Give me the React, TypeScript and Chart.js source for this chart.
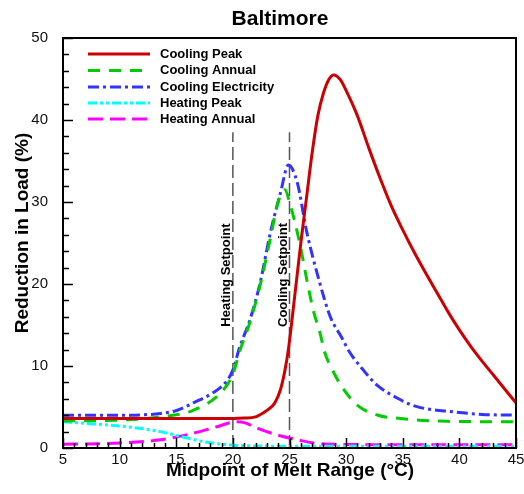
import React, { useEffect, useRef } from "react";
import { Chart, registerables } from "chart.js";

Chart.register(...registerables);

const FONT = "'Liberation Sans', Arial, Helvetica, sans-serif";

const chartTitle = "Baltimore";
const xAxisTitle = "Midpoint of Melt Range (°C)";
const yAxisTitle = "Reduction in Load (%)";
const seriesNames = ["Cooling Peak", "Cooling Annual", "Cooling Electricity", "Heating Peak", "Heating Annual"];
const setpointNames = ["Heating Setpoint", "Cooling Setpoint"];
const setpointX = [20, 25];
const setpointTop = 38.5;

const coolingPeakX = [5, 10, 15, 20, 21, 22, 22.7, 23.3, 23.7, 24.2, 24.6, 24.9, 25.5, 26, 26.5, 27, 27.5, 28, 28.5, 28.9, 29.5, 30.1, 31, 32, 33, 34, 35, 36, 37, 38, 39, 40, 41, 42, 43, 44, 45];
const coolingPeakY = [3.6, 3.6, 3.6, 3.6, 3.65, 3.8, 4.3, 4.9, 5.5, 7.1, 9.5, 12, 19, 25, 30.5, 36, 40.5, 43.3, 45, 45.5, 44.9, 43.3, 40.5, 36.6, 32.9, 29.5, 26.6, 23.9, 21.4, 19.0, 16.6, 14.4, 12.4, 10.6, 8.9, 7.2, 5.5];

const coolingAnnualX = [5, 10, 13.6, 16.5, 18.9, 20, 20.6, 21.5, 22.4, 23.3, 24, 24.6, 25, 25.9, 26.6, 27.1, 27.7, 28.1, 28.8, 29.7, 31, 32.8, 34.8, 39, 45];
const coolingAnnualY = [3.3, 3.4, 3.8, 4.6, 6.7, 9.0, 11.8, 15.3, 19.8, 25.5, 30.0, 31.5, 30.0, 25.0, 20.0, 16.8, 14.0, 11.7, 9.5, 7.3, 5.2, 4.0, 3.6, 3.25, 3.2];

const coolingElecX = [5, 10, 12, 13.6, 15.1, 16.5, 18.2, 19.3, 20, 20.6, 21.5, 22.4, 23.3, 24.2, 24.9, 25.7, 26.5, 27.6, 28.6, 29.6, 30.3, 31.4, 32.7, 34.5, 36.1, 39.5, 42, 45];
const coolingElecY = [4.0, 4.0, 4.05, 4.2, 4.6, 5.5, 6.7, 7.9, 9.5, 12.3, 15.6, 20.1, 26.2, 31.1, 34.5, 32.3, 26.5, 20.5, 16.0, 13.5, 11.7, 9.7, 7.7, 6.1, 5.1, 4.4, 4.1, 4.0];

const heatingPeakX = [5, 7, 10.6, 13.6, 16, 17.7, 20, 22, 30, 45];
const heatingPeakY = [3.2, 3.0, 2.6, 2.0, 1.2, 0.7, 0.35, 0.25, 0.2, 0.2];

const heatingAnnualX = [5, 10, 13.6, 16.5, 18.6, 20.3, 21, 22.2, 23.9, 25.7, 27.1, 29, 35, 45];
const heatingAnnualY = [0.45, 0.6, 1.0, 1.8, 2.6, 3.2, 3.1, 2.4, 1.6, 1.0, 0.6, 0.45, 0.4, 0.4];

const xMin = 5, xMax = 45, xStep = 5, xMinorStep = 1;
const yMin = 0, yMax = 50, yStep = 10, yMinorStep = 2;

const toPoints = (xs: number[], ys: number[]) => xs.map((x, i) => ({ x, y: ys[i] }));

const styles = [
  { color: "#cc0000", dash: [] as number[] },
  { color: "#00cc00", dash: [12, 9] },
  { color: "#3333ff", dash: [11, 4, 3, 4] },
  { color: "#00ffff", dash: [9, 3, 3, 3, 3, 3] },
  { color: "#ff00ff", dash: [15, 7] },
];

const decorPlugin = {
  id: "decor",
  afterDatasetsDraw(chart: any) {
    const { ctx, chartArea } = chart;
    const xs = chart.scales.x;
    const ys = chart.scales.y;
    const { left, right, top, bottom } = chartArea;
    ctx.save();
    ctx.strokeStyle = "#000";
    ctx.lineWidth = 1.5;
    ctx.setLineDash([]);
    for (let v = xMin; v <= xMax + 1e-9; v += xMinorStep) {
      const px = Math.round(xs.getPixelForValue(v)) + 0.5;
      const major = Math.abs(v / xStep - Math.round(v / xStep)) < 1e-6;
      const len = major ? 10 : 5;
      ctx.beginPath();
      ctx.moveTo(px, bottom);
      ctx.lineTo(px, bottom - len);
      ctx.stroke();
    }
    for (let v = yMin; v <= yMax + 1e-9; v += yMinorStep) {
      const py = Math.round(ys.getPixelForValue(v)) + 0.5;
      const major = Math.abs(v / yStep - Math.round(v / yStep)) < 1e-6;
      const len = major ? 10 : 6;
      ctx.beginPath();
      ctx.moveTo(left, py);
      ctx.lineTo(left + len, py);
      ctx.stroke();
    }
    ctx.lineWidth = 2;
    ctx.strokeRect(left, top, right - left, bottom - top);

    const rowY = [54, 70.5, 87, 103, 119];
    ctx.font = `bold 13px ${FONT}`;
    ctx.textBaseline = "middle";
    ctx.textAlign = "left";
    seriesNames.forEach((name, i) => {
      ctx.strokeStyle = styles[i].color;
      ctx.lineWidth = 3;
      ctx.setLineDash(styles[i].dash);
      ctx.beginPath();
      ctx.moveTo(88, rowY[i]);
      ctx.lineTo(150, rowY[i]);
      ctx.stroke();
      ctx.fillStyle = "#000";
      ctx.fillText(name, 160, rowY[i]);
    });
    ctx.setLineDash([]);

    const labelOffsets = [-6, -6];
    setpointNames.forEach((name, i) => {
      const px = xs.getPixelForValue(setpointX[i]) + labelOffsets[i];
      ctx.save();
      ctx.translate(px, 275);
      ctx.rotate(-Math.PI / 2);
      ctx.textAlign = "center";
      ctx.textBaseline = "middle";
      ctx.fillStyle = "#000";
      ctx.font = `bold 13px ${FONT}`;
      ctx.fillText(name, 0, 0);
      ctx.restore();
    });

    ctx.fillStyle = "#000";
    ctx.textAlign = "center";
    ctx.textBaseline = "alphabetic";
    ctx.font = `bold 21px ${FONT}`;
    ctx.fillText(chartTitle, 280, 25);

    ctx.font = `bold 19px ${FONT}`;
    ctx.fillText(xAxisTitle, 290, 476);

    ctx.save();
    ctx.translate(28, 233);
    ctx.rotate(-Math.PI / 2);
    ctx.textAlign = "center";
    ctx.fillText(yAxisTitle, 0, 0);
    ctx.restore();

    ctx.restore();
  },
};

export default function App() {
  const ref = useRef<HTMLCanvasElement>(null);
  useEffect(() => {
    document.body.style.margin = "0";
    const canvas = ref.current!;
    const seriesX = [coolingPeakX, coolingAnnualX, coolingElecX, heatingPeakX, heatingAnnualX];
    const seriesY = [coolingPeakY, coolingAnnualY, coolingElecY, heatingPeakY, heatingAnnualY];
    const datasets: any[] = seriesNames.map((name, i) => ({
      label: name,
      data: toPoints(seriesX[i], seriesY[i]),
      borderColor: styles[i].color,
      borderWidth: 3,
      borderDash: styles[i].dash,
      pointRadius: 0,
      fill: false,
      cubicInterpolationMode: "monotone",
      order: i,
    }));
    setpointNames.forEach((name, i) => {
      datasets.push({
        label: name,
        data: [
          { x: setpointX[i], y: yMin },
          { x: setpointX[i], y: setpointTop },
        ],
        borderColor: "#555555",
        borderWidth: 1.5,
        borderDash: [13, 5],
        pointRadius: 0,
        fill: false,
        order: 10,
      });
    });
    const chart = new Chart(canvas, {
      type: "line",
      data: { datasets },
      options: {
        responsive: false,
        animation: false,
        devicePixelRatio: 1,
        layout: { padding: { top: 38, right: 8, left: 0, bottom: 0 } },
        plugins: { legend: { display: false }, tooltip: { enabled: false }, title: { display: false } },
        scales: {
          x: {
            type: "linear",
            min: xMin,
            max: xMax,
            grid: { display: false },
            border: { display: false },
            ticks: { stepSize: xStep, padding: -5, color: "#111", font: { family: FONT, size: 15 }, maxRotation: 0 },
            afterFit: (s: any) => { s.height = 46; },
          },
          y: {
            type: "linear",
            min: yMin,
            max: yMax,
            grid: { display: false },
            border: { display: false },
            ticks: { stepSize: yStep, padding: 7, color: "#111", font: { family: FONT, size: 15 } },
            afterFit: (s: any) => { s.width = 63; },
          },
        },
      },
      plugins: [decorPlugin],
    });
    return () => chart.destroy();
  }, []);
  return (
    <div style={{ width: 524, height: 494 }}>
      <canvas ref={ref} width={524} height={494} style={{ display: "block" }} />
    </div>
  );
}
